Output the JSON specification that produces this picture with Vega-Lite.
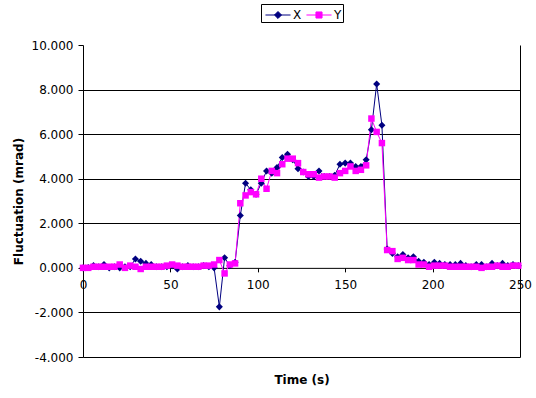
{
"$schema": "https://vega.github.io/schema/vega-lite/v6.json",
"width": 437, "height": 312,
"autosize": {"type": "none"},
"padding": {"left": 83, "top": 45, "right": 16, "bottom": 41},
"background": "white",
"config": {
 "view": {"stroke": null},
 "font": "DejaVu Sans",
 "locale": {"number": {"decimal": ".", "thousands": ",", "grouping": [3], "currency": ["$", ""], "minus": "-"}},
 "axis": {"labelFont": "DejaVu Sans", "titleFont": "DejaVu Sans", "labelColor": "black", "titleColor": "black", "domainColor": "black", "tickColor": "black", "gridColor": "black", "gridOpacity": 1, "domainWidth": 1, "gridWidth": 1}
},
"data": {"values": [
{"t":0,"s":"X","v":0.00},{"t":3,"s":"X","v":0.02},{"t":6,"s":"X","v":0.10},{"t":9,"s":"X","v":0.05},{"t":12,"s":"X","v":0.15},{"t":15,"s":"X","v":0.00},{"t":18,"s":"X","v":0.05},{"t":21,"s":"X","v":0.00},{"t":24,"s":"X","v":0.05},{"t":27,"s":"X","v":0.05},{"t":30,"s":"X","v":0.40},{"t":33,"s":"X","v":0.30},{"t":36,"s":"X","v":0.20},{"t":39,"s":"X","v":0.15},{"t":42,"s":"X","v":0.05},{"t":45,"s":"X","v":0.05},{"t":48,"s":"X","v":0.05},{"t":51,"s":"X","v":0.10},{"t":54,"s":"X","v":-0.05},{"t":57,"s":"X","v":0.05},{"t":60,"s":"X","v":0.10},{"t":63,"s":"X","v":0.05},{"t":66,"s":"X","v":0.05},{"t":69,"s":"X","v":0.10},{"t":72,"s":"X","v":0.05},{"t":75,"s":"X","v":0.00},{"t":78,"s":"X","v":-1.75},{"t":81,"s":"X","v":0.45},{"t":84,"s":"X","v":0.10},{"t":87,"s":"X","v":0.25},{"t":90,"s":"X","v":2.35},{"t":93,"s":"X","v":3.80},{"t":96,"s":"X","v":3.50},{"t":99,"s":"X","v":3.30},{"t":102,"s":"X","v":3.80},{"t":105,"s":"X","v":4.35},{"t":108,"s":"X","v":4.25},{"t":111,"s":"X","v":4.50},{"t":114,"s":"X","v":4.95},{"t":117,"s":"X","v":5.10},{"t":120,"s":"X","v":4.85},{"t":123,"s":"X","v":4.45},{"t":126,"s":"X","v":4.30},{"t":129,"s":"X","v":4.10},{"t":132,"s":"X","v":4.10},{"t":135,"s":"X","v":4.35},{"t":138,"s":"X","v":4.10},{"t":141,"s":"X","v":4.10},{"t":144,"s":"X","v":4.15},{"t":147,"s":"X","v":4.65},{"t":150,"s":"X","v":4.70},{"t":153,"s":"X","v":4.70},{"t":156,"s":"X","v":4.55},{"t":159,"s":"X","v":4.55},{"t":162,"s":"X","v":4.85},{"t":165,"s":"X","v":6.20},{"t":168,"s":"X","v":8.25},{"t":171,"s":"X","v":6.40},{"t":174,"s":"X","v":0.85},{"t":177,"s":"X","v":0.65},{"t":180,"s":"X","v":0.50},{"t":183,"s":"X","v":0.60},{"t":186,"s":"X","v":0.45},{"t":189,"s":"X","v":0.50},{"t":192,"s":"X","v":0.30},{"t":195,"s":"X","v":0.25},{"t":198,"s":"X","v":0.15},{"t":201,"s":"X","v":0.25},{"t":204,"s":"X","v":0.20},{"t":207,"s":"X","v":0.15},{"t":210,"s":"X","v":0.15},{"t":213,"s":"X","v":0.15},{"t":216,"s":"X","v":0.20},{"t":219,"s":"X","v":0.10},{"t":222,"s":"X","v":0.05},{"t":225,"s":"X","v":0.15},{"t":228,"s":"X","v":0.15},{"t":231,"s":"X","v":0.05},{"t":234,"s":"X","v":0.20},{"t":237,"s":"X","v":0.10},{"t":240,"s":"X","v":0.20},{"t":243,"s":"X","v":0.10},{"t":246,"s":"X","v":0.15},{"t":249,"s":"X","v":0.10},
{"t":0,"s":"Y","v":0.00},{"t":3,"s":"Y","v":0.00},{"t":6,"s":"Y","v":0.05},{"t":9,"s":"Y","v":0.05},{"t":12,"s":"Y","v":0.05},{"t":15,"s":"Y","v":0.05},{"t":18,"s":"Y","v":0.05},{"t":21,"s":"Y","v":0.15},{"t":24,"s":"Y","v":0.00},{"t":27,"s":"Y","v":0.10},{"t":30,"s":"Y","v":0.05},{"t":33,"s":"Y","v":-0.05},{"t":36,"s":"Y","v":0.05},{"t":39,"s":"Y","v":0.05},{"t":42,"s":"Y","v":0.05},{"t":45,"s":"Y","v":0.05},{"t":48,"s":"Y","v":0.10},{"t":51,"s":"Y","v":0.15},{"t":54,"s":"Y","v":0.10},{"t":57,"s":"Y","v":0.05},{"t":60,"s":"Y","v":0.05},{"t":63,"s":"Y","v":0.05},{"t":66,"s":"Y","v":0.05},{"t":69,"s":"Y","v":0.10},{"t":72,"s":"Y","v":0.10},{"t":75,"s":"Y","v":0.15},{"t":78,"s":"Y","v":0.35},{"t":81,"s":"Y","v":-0.25},{"t":84,"s":"Y","v":0.15},{"t":87,"s":"Y","v":0.20},{"t":90,"s":"Y","v":2.90},{"t":93,"s":"Y","v":3.25},{"t":96,"s":"Y","v":3.40},{"t":99,"s":"Y","v":3.30},{"t":102,"s":"Y","v":4.00},{"t":105,"s":"Y","v":3.55},{"t":108,"s":"Y","v":4.35},{"t":111,"s":"Y","v":4.25},{"t":114,"s":"Y","v":4.65},{"t":117,"s":"Y","v":4.90},{"t":120,"s":"Y","v":4.90},{"t":123,"s":"Y","v":4.70},{"t":126,"s":"Y","v":4.30},{"t":129,"s":"Y","v":4.20},{"t":132,"s":"Y","v":4.20},{"t":135,"s":"Y","v":4.05},{"t":138,"s":"Y","v":4.10},{"t":141,"s":"Y","v":4.10},{"t":144,"s":"Y","v":4.05},{"t":147,"s":"Y","v":4.25},{"t":150,"s":"Y","v":4.35},{"t":153,"s":"Y","v":4.55},{"t":156,"s":"Y","v":4.35},{"t":159,"s":"Y","v":4.40},{"t":162,"s":"Y","v":4.60},{"t":165,"s":"Y","v":6.70},{"t":168,"s":"Y","v":6.10},{"t":171,"s":"Y","v":5.60},{"t":174,"s":"Y","v":0.80},{"t":177,"s":"Y","v":0.75},{"t":180,"s":"Y","v":0.40},{"t":183,"s":"Y","v":0.45},{"t":186,"s":"Y","v":0.35},{"t":189,"s":"Y","v":0.35},{"t":192,"s":"Y","v":0.15},{"t":195,"s":"Y","v":0.15},{"t":198,"s":"Y","v":0.05},{"t":201,"s":"Y","v":0.10},{"t":204,"s":"Y","v":0.10},{"t":207,"s":"Y","v":0.10},{"t":210,"s":"Y","v":0.05},{"t":213,"s":"Y","v":0.05},{"t":216,"s":"Y","v":0.05},{"t":219,"s":"Y","v":0.05},{"t":222,"s":"Y","v":0.05},{"t":225,"s":"Y","v":0.05},{"t":228,"s":"Y","v":0.00},{"t":231,"s":"Y","v":0.05},{"t":234,"s":"Y","v":0.05},{"t":237,"s":"Y","v":0.10},{"t":240,"s":"Y","v":0.05},{"t":243,"s":"Y","v":0.05},{"t":246,"s":"Y","v":0.10},{"t":249,"s":"Y","v":0.10}
]},
"encoding": {
 "x": {"field": "t", "type": "quantitative", "scale": {"domain": [0, 250], "nice": false},
  "axis": {"values": [0, 50, 100, 150, 200, 250], "title": "Time (s)", "offset": -89.14, "grid": false, "tickSize": 4, "labelPadding": 8, "labelFontSize": 12, "titleFontSize": 12, "titleFontWeight": "bold", "titleBaseline": "middle", "titleY": 112, "labelFlush": false}},
 "color": {"field": "s", "type": "nominal", "scale": {"domain": ["X", "Y"], "range": ["#000080", "#FF00FF"]},
  "legend": {"orient": "none", "legendX": 178, "legendY": -41, "direction": "horizontal", "title": null, "strokeColor": "black", "fillColor": "white", "padding": 1, "labelFontSize": 12, "labelColor": "black", "labelFont": "DejaVu Sans", "symbolSize": 361, "symbolOffset": 6, "symbolType": "M-1.32,0L1.32,0M0,-0.37L0.37,0L0,0.37L-0.37,0Z", "columnPadding": 1, "labelOffset": 5,
   "encode": {"symbols": {"update": {
     "shape": {"signal": "datum.value === 'X' ? 'M-1.32,0L1.32,0M0,-0.37L0.37,0L0,0.37L-0.37,0Z' : 'M-1.32,0L1.32,0M-0.32,-0.32L0.32,-0.32L0.32,0.32L-0.32,0.32Z'"},
     "fill": {"signal": "datum.value === 'X' ? '#000080' : '#FF00FF'"},
     "stroke": {"signal": "datum.value === 'X' ? '#000080' : '#FF00FF'"},
     "strokeWidth": {"value": 1},
     "opacity": {"value": 1}
   }}}}}
},
"layer": [
 {"mark": {"type": "line", "strokeWidth": 1},
  "encoding": {
   "y": {"field": "v", "type": "quantitative", "scale": {"domain": [-4, 10], "nice": false},
    "axis": {"values": [-4, -2, 0, 2, 4, 6, 8, 10], "format": ".3f", "title": "Fluctuation (mrad)", "grid": false, "tickSize": 5, "labelPadding": 5, "labelFontSize": 12, "titleFontSize": 12, "titleFontWeight": "bold", "titleX": -65, "titleY": 156, "titleBaseline": "middle", "labelFlush": false}}
  }},
 {"transform": [{"filter": "datum.s === 'X'"}],
  "mark": {"type": "point", "filled": true, "opacity": 1, "size": 50, "shape": "diamond"},
  "encoding": {
   "y": {"field": "v", "type": "quantitative", "scale": {"domain": [-4, 10], "nice": false}, "axis": null}
  }},
 {"transform": [{"filter": "datum.s === 'Y'"}],
  "mark": {"type": "point", "filled": true, "opacity": 1, "size": 42, "shape": "square"},
  "encoding": {
   "y": {"field": "v", "type": "quantitative", "scale": {"domain": [-4, 10], "nice": false},
    "axis": {"orient": "right", "values": [-4, -2, 2, 4, 6, 8], "grid": true, "labels": false, "ticks": false, "domain": true, "title": null}}
  }}
],
"resolve": {"axis": {"y": "independent"}}
}
